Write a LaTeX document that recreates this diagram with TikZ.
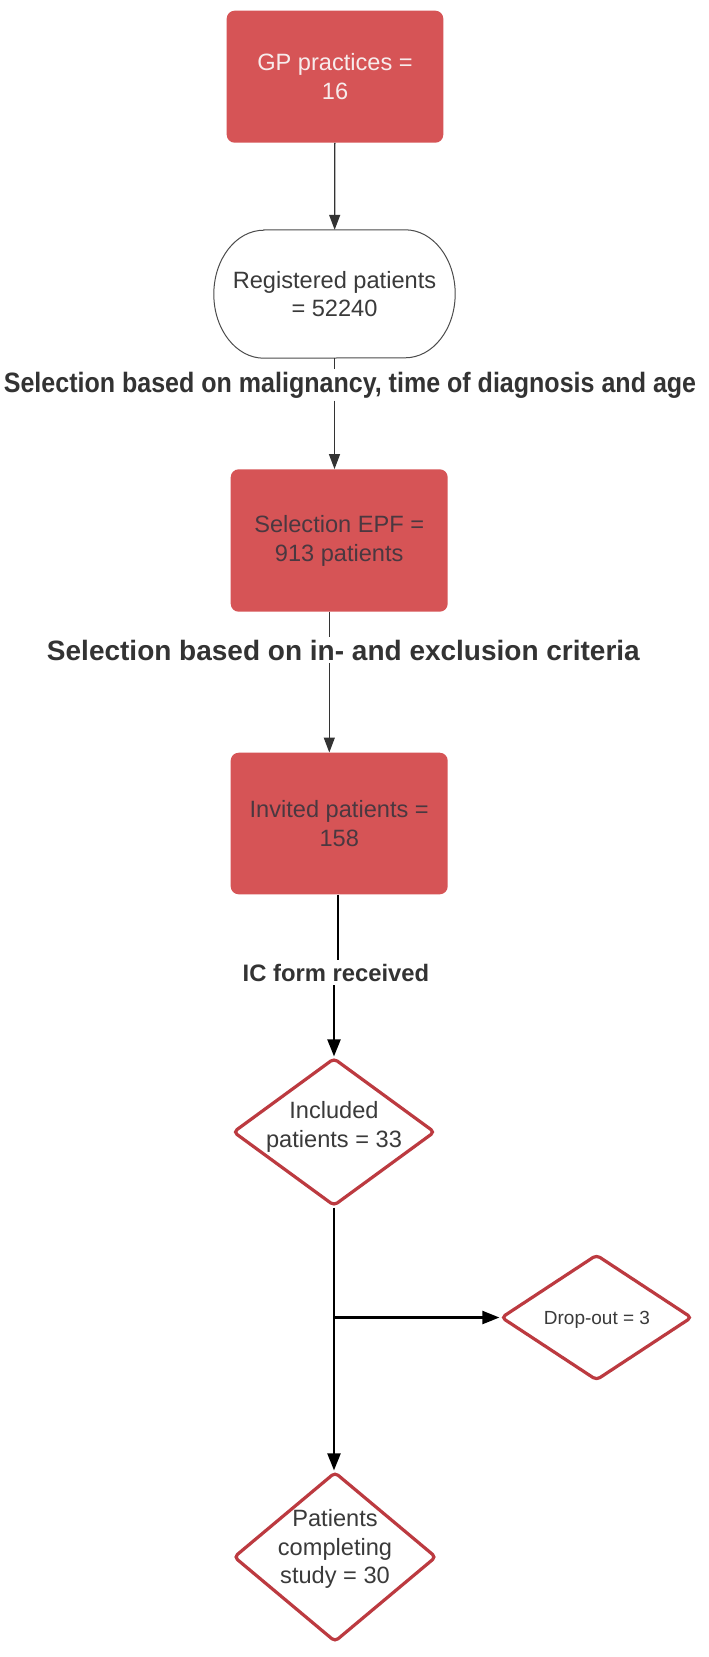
\documentclass[tikz,border=0pt]{standalone}
\usepackage{fontspec}
\usepackage{graphicx}
\setmainfont{Liberation Sans}
\usetikzlibrary{arrows.meta,shapes.geometric}
\definecolor{boxred}{HTML}{D65456}
\definecolor{edgered}{HTML}{BC3A40}
\definecolor{ink}{HTML}{3A3A3A}
\definecolor{boxink}{HTML}{4A3840}
\definecolor{paleink}{HTML}{F7ECEC}
\definecolor{linegray}{HTML}{333333}
\begin{document}
\begin{tikzpicture}[x=1pt,y=-1pt,
  redbox/.style={rectangle, rounded corners=8pt, fill=boxred, inner sep=0pt,
    align=center, font=\fontsize{23.6pt}{28.8pt}\selectfont},
  body/.style={align=center, inner sep=0pt, text=ink,
    font=\fontsize{23.6pt}{28.8pt}\selectfont},
  tag/.style={text=linegray, inner xsep=0pt, inner ysep=2.5pt,
    font=\bfseries\fontsize{23.8pt}{28.8pt}\selectfont},
  decision/.style={diamond, draw=edgered, line width=3.2pt, rounded corners=4pt,
    fill=white, inner sep=0pt},
  fineline/.style={draw=linegray, line width=1.3pt},
  finearrow/.style={fineline, -{Triangle[length=15pt,width=11pt]}},
  boldline/.style={draw=black, line width=2.2pt},
  boldarrow/.style={boldline, -{Triangle[length=17pt,width=13pt]}},
]
\fill[white] (0,0) rectangle (709,1657);
\useasboundingbox (0,0) rectangle (709,1657);

% boxes
\node[redbox, text=paleink, minimum width=216.6pt, minimum height=132pt]
  (gp) at (335,76.7) {GP practices =\\16};
\node[body, minimum width=241pt, minimum height=128pt]
  (reg) at (334.5,294) {Registered patients\\= 52240};
\draw[draw=gray!60!black, line width=1pt]
  ([xshift=50pt]reg.north west) -- ([xshift=-50pt]reg.north east)
  arc[start angle=90, end angle=-90, x radius=50pt, y radius=64pt]
  -- ([xshift=50pt]reg.south west)
  arc[start angle=270, end angle=90, x radius=50pt, y radius=64pt] -- cycle;
\node[redbox, text=boxink, minimum width=217pt, minimum height=142.4pt]
  (epf) at (339.2,540.5) {Selection EPF =\\913 patients};
\node[redbox, text=boxink, minimum width=217pt, minimum height=141.6pt]
  (inv) at (339.2,823.5) {Invited patients =\\158};

% decisions
\node[decision, minimum width=202pt, minimum height=148pt] (inc) at (334,1132) {};
\node[body] (inctxt) at (334,1126.5) {Included\\patients = 33};
\node[decision, minimum width=191pt, minimum height=126pt] (drop) at (596.5,1317.5) {};
\node[body, font=\fontsize{19pt}{23pt}\selectfont] (droptxt) at (597,1319.5) {Drop-out = 3};
\node[decision, minimum width=202.7pt, minimum height=170pt] (comp) at (335,1557) {};
\node[body] (comptxt) at (335,1549) {Patients\\completing\\study = 30};

% selection labels (the long one is set narrower to fit the width)
\node[tag, font=\bfseries\fontsize{28pt}{32pt}\selectfont, anchor=base]
  (sel1) at (350,392) {\scalebox{0.894}[1]{Selection based on malignancy, time of diagnosis and age}};
\node[tag, font=\bfseries\fontsize{28pt}{32pt}\selectfont, anchor=base]
  (sel2) at (343.4,660) {Selection based on in- and exclusion criteria};
\node[tag, anchor=base, inner ysep=4pt] (icf) at (336,981) {IC form received};

% connectors
\draw[finearrow] (gp) -- (reg);
\draw[fineline] (reg.south) -- (reg.south |- sel1.north);
\draw[finearrow] (reg.south |- sel1.south) -- (reg.south |- epf.north);
\coordinate (epfout) at ([xshift=-9.9pt]epf.south);
\draw[fineline] (epfout) -- (epfout |- sel2.north);
\draw[finearrow] (epfout |- sel2.south) -- (epfout |- inv.north);
\coordinate (invout) at ([xshift=-1pt]inv.south);
\draw[boldline] (invout) -- (invout |- icf.north);
\draw[boldarrow] (inc.north |- icf.south) -- (inc.north);
\coordinate (split) at (inc.south |- drop.west);
\draw[boldarrow] (inc.south) -- (inc.south |- comp.north);
\draw[boldarrow] (split) -- (drop.west);
\end{tikzpicture}
\end{document}
